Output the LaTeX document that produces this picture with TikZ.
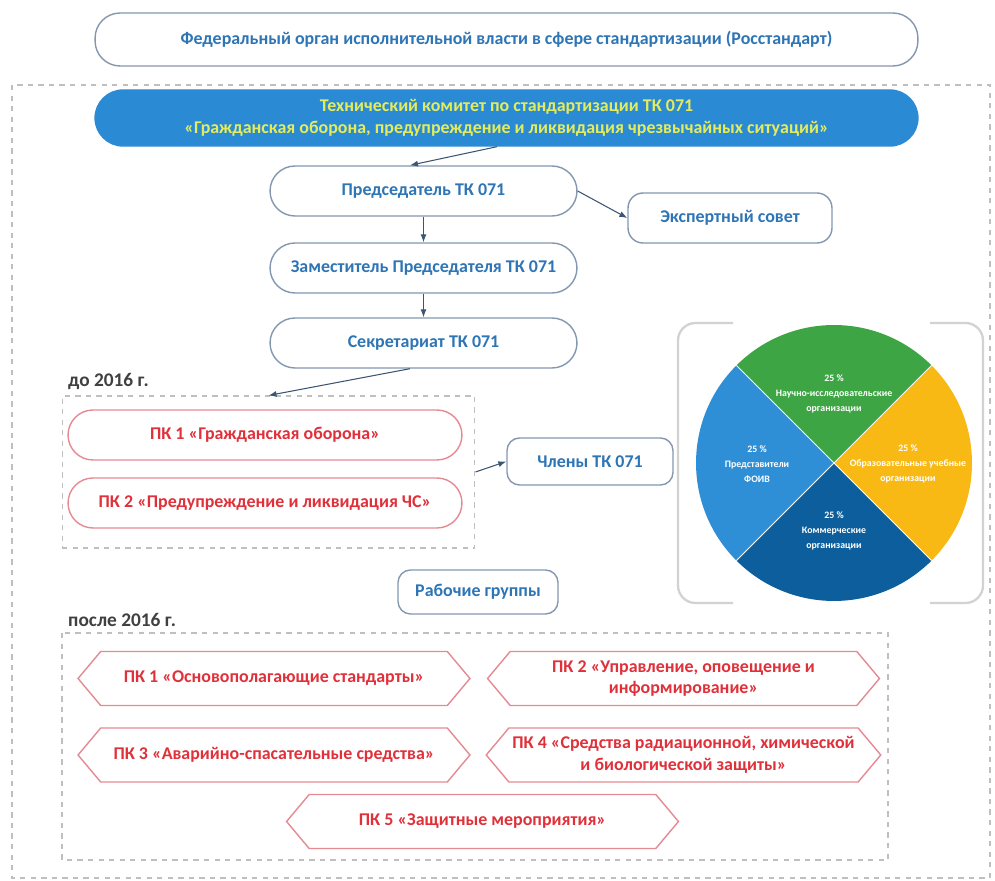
\documentclass[tikz,border=0pt]{standalone}
\usepackage{fontspec}
\setmainfont{Carlito}
\usetikzlibrary{arrows.meta,shapes.symbols}

\definecolor{txtblue}{HTML}{2E75B6}
\definecolor{edgeblue}{HTML}{8497B0}
\definecolor{tkblue}{HTML}{2A8AD4}
\definecolor{tkyellow}{HTML}{E4EC5C}
\definecolor{pkred}{HTML}{E0303A}
\definecolor{pkedge}{HTML}{E58A93}
\definecolor{linkblue}{HTML}{3B5573}
\definecolor{framegray}{HTML}{BFBFBF}
\definecolor{piegreen}{HTML}{3DA543}
\definecolor{pieyellow}{HTML}{F9B915}
\definecolor{pieblue}{HTML}{2E8FD6}
\definecolor{piedark}{HTML}{0D5E9C}

\begin{document}
\begin{tikzpicture}[x=0.02cm,y=-0.02cm,
   box/.style={draw=edgeblue,line width=0.8pt,fill=white,rounded corners=0.5cm,minimum height=1cm,
     align=center,inner sep=2pt,text=txtblue,font=\fontsize{10.2}{12.2}\selectfont\bfseries},
   pk/.style={box,draw=pkedge,text=pkred},
   hexa/.style={signal,signal to=west and east,signal pointer angle=100,draw=pkedge,line width=0.8pt,
     minimum width=7.84cm,minimum height=1.08cm,align=center,inner sep=2pt,text=pkred,
     font=\fontsize{10.2}{12.2}\selectfont\bfseries},
   flow/.style={-{Latex[length=1.6mm,width=1.2mm]},linkblue,line width=0.6pt},
   grp/.style={draw=framegray,dashed,line width=0.6pt},
   yr/.style={anchor=west,text=black!75,font=\fontsize{11}{13}\selectfont\bfseries},
   slice/.style={align=center,text=white,font=\fontsize{5.6}{8.5}\selectfont\bfseries}]
  \useasboundingbox (0,0) rectangle (995,881);
  \draw[grp] (12,85) rectangle (990,878);
  \node[box,minimum width=16.46cm,minimum height=1.06cm] (fed) at (506.5,39.5)
    {Федеральный орган исполнительной власти в сфере стандартизации (Росстандарт)};
  \node[box,fill=tkblue,draw=tkblue,text=tkyellow,minimum width=16.46cm,minimum height=1.12cm,rounded corners=0.56cm] (tk) at (506.5,118)
    {Технический комитет по стандартизации ТК 071\\«Гражданская оборона, предупреждение и ликвидация чрезвычайных ситуаций»};
  \node[box,minimum width=6.14cm] (chair) at (423.5,191) {Председатель ТК 071};
  \node[box,minimum width=4.08cm,rounded corners=0.3cm] (expert) at (730,218) {Экспертный совет};
  \node[box,minimum width=6.14cm] (deputy) at (423.5,268) {Заместитель Председателя ТК 071};
  \node[box,minimum width=6.14cm] (secr) at (423.5,343) {Секретариат ТК 071};
  \node[yr] (before) at (62,381) {до 2016 г.};
  \node[grp,minimum width=8.26cm,minimum height=3.04cm] (old) at (268.5,472) {};
  \node[pk,minimum width=7.88cm] (oldA) at (265,435) {ПК 1 «Гражданская оборона»};
  \node[pk,minimum width=7.88cm] (oldB) at (265,503) {ПК 2 «Предупреждение и ликвидация ЧС»};
  \node[box,minimum width=3.32cm,minimum height=0.94cm,rounded corners=0.25cm] (members) at (590,461.5) {Члены ТК 071};
  \node[box,minimum width=3.2cm,minimum height=0.88cm,rounded corners=0.25cm] (wg) at (478,592) {Рабочие группы};
  \node[yr] (after) at (62,620) {после 2016 г.};
  \draw[grp] (62,633) rectangle (888,860);
  \node[hexa] (newA) at (274,678.5) {ПК 1 «Основополагающие стандарты»};
  \node[hexa] (newB) at (683.5,678.5) {ПК 2 «Управление, оповещение и\\информирование»};
  \node[hexa] (newC) at (274,755) {ПК 3 «Аварийно-спасательные средства»};
  \node[hexa] (newD) at (683.5,755) {ПК 4 «Средства радиационной, химической\\и биологической защиты»};
  \node[hexa] (newE) at (482.5,821.5) {ПК 5 «Защитные мероприятия»};
  \draw[flow] ([xshift=-0.19cm]tk.south) -- ([xshift=-0.27cm]chair.north);
  \draw[flow] (chair.east) -- (expert.west);
  \draw[flow] (chair) -- (deputy);
  \draw[flow] (deputy) -- (secr);
  \draw[flow] ([xshift=-0.27cm]secr.south) -- (old.north);
  \draw[flow] (old.east) -- (members.west);
  \draw[framegray!70,line width=1.3pt,rounded corners=0.35cm]
    (733,323) -- (678,323) -- (678,603) -- (733,603)
    (930,323) -- (983,323) -- (983,603) -- (930,603);
  \begin{scope}[shift={(834,463)},x=1cm,y=1cm]
    \fill[piegreen] (0,0) -- (45:2.76) arc (45:135:2.76) -- cycle;
    \fill[pieblue] (0,0) -- (135:2.76) arc (135:225:2.76) -- cycle;
    \fill[piedark] (0,0) -- (225:2.76) arc (225:315:2.76) -- cycle;
    \fill[pieyellow] (0,0) -- (315:2.76) arc (315:405:2.76) -- cycle;
    \draw[white,line width=0.5pt] (45:2.76) -- (225:2.76) (135:2.76) -- (315:2.76);
    \node[slice] (sci) at (0,1.38) {25 \%\\Научно-исследовательские\\организации};
    \node[slice] (edu) at (1.48,-0.02) {25 \%\\Образовательные учебные\\организации};
    \node[slice] (gov) at (-1.54,-0.02) {25 \%\\Представители\\ФОИВ};
    \node[slice] (com) at (0,-1.36) {25 \%\\Коммерческие\\организации};
  \end{scope}
\end{tikzpicture}
\end{document}
